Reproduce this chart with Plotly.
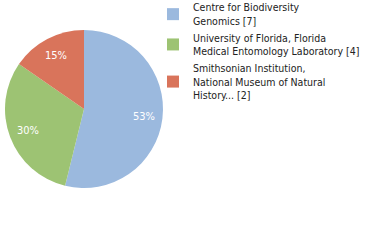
import math
import plotly.graph_objects as go

labels = ["Centre for Biodiversity<br>Genomics [7]",
          "University of Florida, Florida<br>Medical Entomology Laboratory [4]",
          "Smithsonian Institution,<br>National Museum of Natural<br>History... [2]"]
values = [7, 4, 2]
pct_text = ["53%", "30%", "15%"]
colors = ["#9bb9de", "#9dc373", "#d9745b"]

W, H = 380, 240
dom_x = [5 / W, 163 / W]
dom_y = [52 / H, 210 / H]

fig = go.Figure(go.Pie(
    labels=labels, values=values,
    textinfo="none",
    marker=dict(colors=colors, line=dict(width=0)),
    sort=False, direction="clockwise", rotation=0,
    domain=dict(x=dom_x, y=dom_y),
    hoverinfo="skip",
))

# percentage labels placed radially from the slice mid-angles
cx = (dom_x[0] + dom_x[1]) / 2
cy = (dom_y[0] + dom_y[1]) / 2
R = (dom_x[1] - dom_x[0]) * W / 2
total = sum(values)
cum = 0
annotations = []
for v, t in zip(values, pct_text):
    mid = (cum + v / 2) / total * 2 * math.pi
    cum += v
    r = 0.76 * R
    annotations.append(dict(
        x=cx + r * math.sin(mid) / W, y=cy + r * math.cos(mid) / H,
        xref="paper", yref="paper", text=t, showarrow=False,
        font=dict(family="DejaVu Sans Condensed", size=11, color="white"),
        xanchor="center", yanchor="middle"))

fig.update_layout(
    width=W, height=H,
    margin=dict(l=0, r=0, t=0, b=0, autoexpand=False),
    paper_bgcolor="white",
    showlegend=True,
    annotations=annotations,
    legend=dict(x=153 / W, y=1 + 6 / H, xanchor="left", yanchor="top",
                font=dict(family="DejaVu Sans Condensed", size=10.5, color="#222222"),
                itemwidth=30, bgcolor="rgba(0,0,0,0)"),
)
fig.write_html("out.html")
